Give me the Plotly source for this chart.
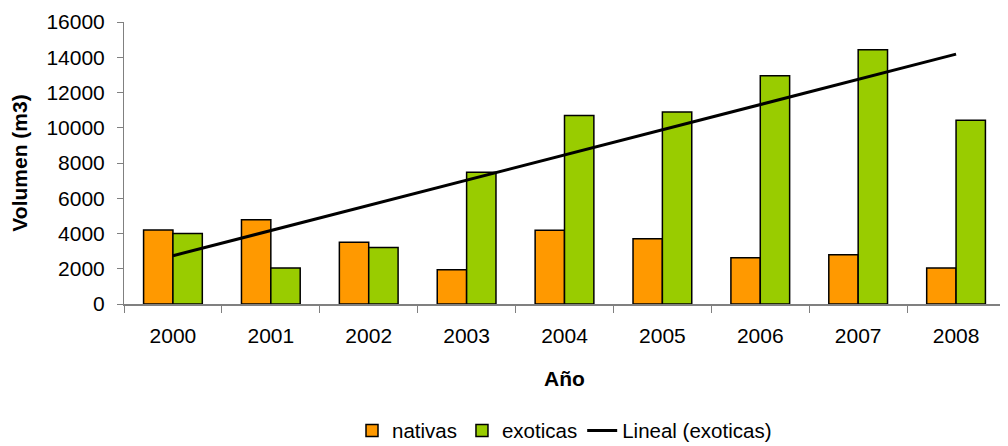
import numpy as np
import plotly.graph_objects as go

years = ["2000", "2001", "2002", "2003", "2004", "2005", "2006", "2007", "2008"]
nativas = [4200, 4780, 3500, 1950, 4190, 3700, 2620, 2800, 2040]
exoticas = [4000, 2040, 3200, 7480, 10700, 10900, 12950, 14430, 10420]

# linear trend on exoticas (like Excel "Lineal")
xs = np.arange(1, len(years) + 1)
slope, intercept = np.polyfit(xs, exoticas, 1)
trend = list(slope * xs + intercept)

FONT = "Liberation Sans, Arial, sans-serif"

fig = go.Figure()
fig.add_trace(go.Bar(x=years, y=nativas, name="nativas",
                     marker=dict(color="#FF9900", line=dict(color="#000000", width=1.5))))
fig.add_trace(go.Bar(x=years, y=exoticas, name="exoticas",
                     marker=dict(color="#99CC00", line=dict(color="#000000", width=1.5))))
fig.add_trace(go.Scatter(x=years, y=trend, name="Lineal (exoticas)", mode="lines",
                         line=dict(color="#000000", width=3)))

# page body has an 8px margin: figure is sized 1000x438 so it fills the 1008x446 window
fig.update_layout(
    width=1000, height=438,
    margin=dict(l=116, r=3, t=14, b=142),
    paper_bgcolor="white", plot_bgcolor="white",
    font=dict(family=FONT, size=21, color="#000000"),
    barmode="group", bargap=0.4, bargroupgap=0,
    showlegend=True,
    legend=dict(orientation="h", x=0.5, xanchor="center",
                yref="container", y=0.035, yanchor="middle",
                font=dict(size=20.5), traceorder="normal", tracegroupgap=0),
)
fig.update_xaxes(
    type="category", showline=True, linecolor="#808080", linewidth=2,
    ticks="outside", tickson="boundaries", ticklen=7, tickcolor="#808080",
    showgrid=False, tickfont=dict(size=21), ticklabelstandoff=12, automargin=False,
    title=dict(text="<b>Año</b>", font=dict(size=21), standoff=25),
)
fig.update_yaxes(
    range=[0, 16000], dtick=2000, showline=True, linecolor="#808080", linewidth=1,
    ticks="outside", ticklen=6, tickcolor="#808080", showgrid=False,
    zeroline=False, tickfont=dict(size=21), tickformat="d",
    ticklabelstandoff=8, automargin=False,
    title=dict(text="<b>Volumen (m3)</b>", font=dict(size=21), standoff=17),
)

fig.write_html("out.html")
